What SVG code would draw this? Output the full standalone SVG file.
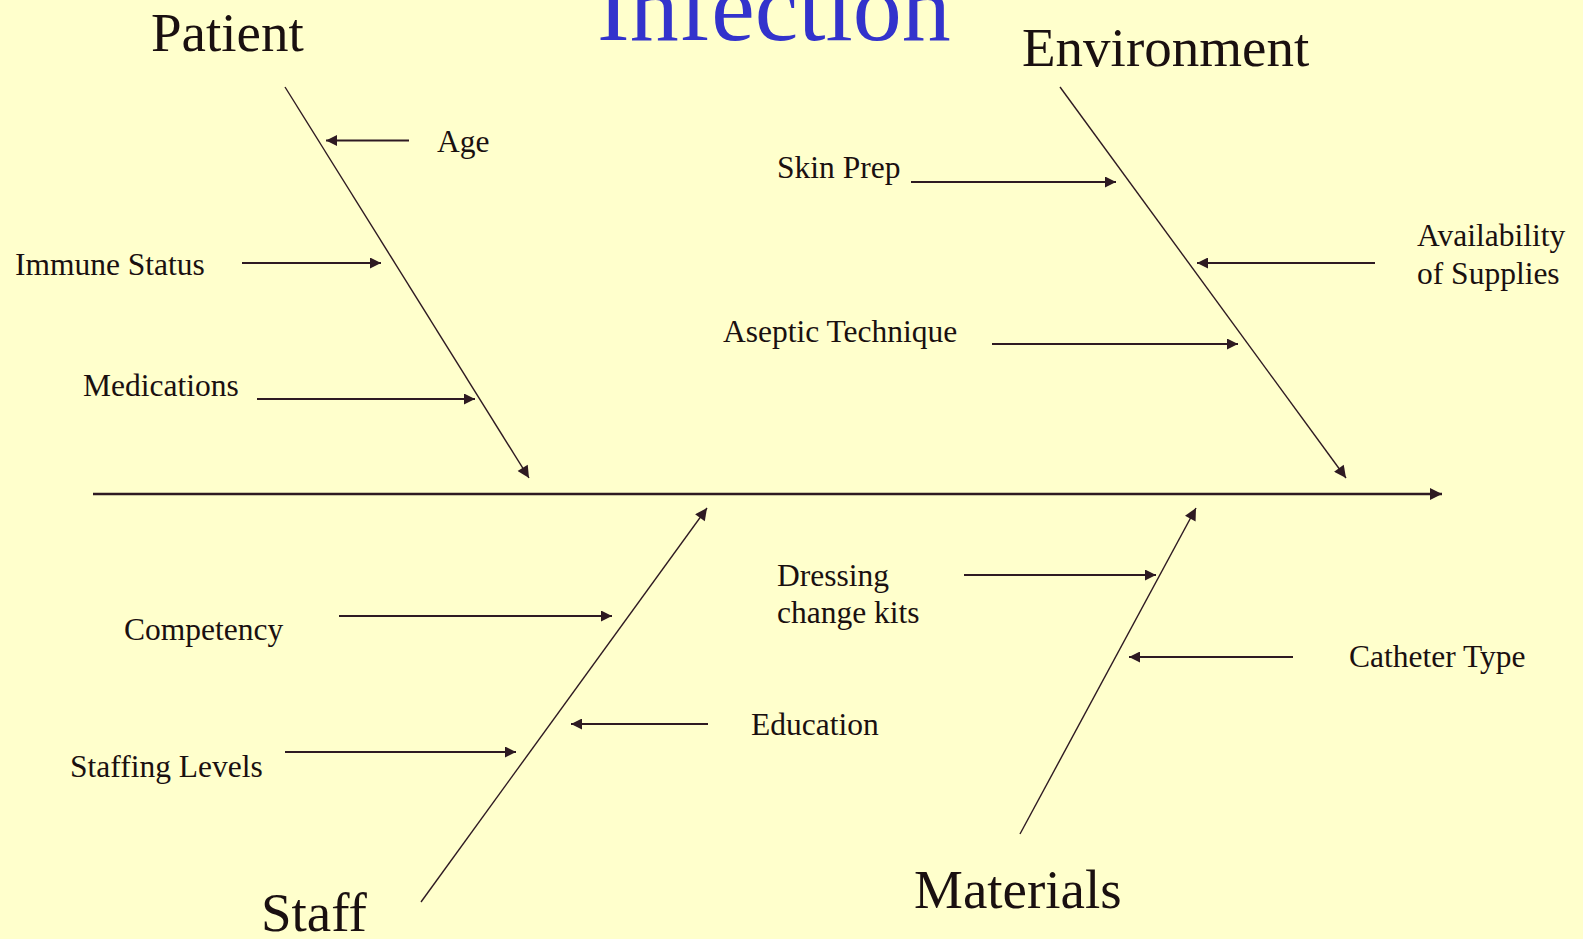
<svg xmlns="http://www.w3.org/2000/svg" width="1583" height="939" viewBox="0 0 1583 939">
<style>
.bg{fill:#ffffcc}
.t{font-family:"Liberation Serif","Times New Roman",serif;fill:#1a1010}
.big{font-size:55px}
.sm{font-size:31.5px}
.title{font-family:"Liberation Serif","Times New Roman",serif;font-size:98px;fill:#3333cc}
.bone{stroke:#2e1a22;stroke-width:1.4;fill:none}
.rib{stroke:#2e1a22;stroke-width:2.2;fill:none}
.spine{stroke:#2e1a22;stroke-width:2.4;fill:none}
</style>
<defs>
<marker id="ah" viewBox="0 0 10 10" refX="10" refY="5" markerWidth="13" markerHeight="11" markerUnits="userSpaceOnUse" orient="auto">
<path d="M0,0 L10,5 L0,10 z" fill="#2e1a22"/>
</marker>
<marker id="ahb" viewBox="0 0 10 10" refX="10" refY="5" markerWidth="14" markerHeight="12" markerUnits="userSpaceOnUse" orient="auto">
<path d="M0,0 L10,5 L0,10 z" fill="#2e1a22"/>
</marker>
</defs>
<rect class="bg" x="0" y="0" width="1583" height="939"/>
<text id="title" class="title" x="597" y="40">Infection</text>

<g id="connectors">
<line class="spine" x1="93" y1="494" x2="1442" y2="494" marker-end="url(#ahb)"/>
<line class="bone" x1="285" y1="87" x2="529" y2="478" marker-end="url(#ahb)"/>
<line class="bone" x1="1060" y1="87" x2="1346" y2="478" marker-end="url(#ahb)"/>
<line class="bone" x1="421" y1="902" x2="707" y2="508" marker-end="url(#ahb)"/>
<line class="bone" x1="1020" y1="834" x2="1196" y2="508" marker-end="url(#ahb)"/>
<line class="rib" x1="409" y1="140.5" x2="326" y2="140.5" marker-end="url(#ah)"/>
<line class="rib" x1="242" y1="263" x2="381" y2="263" marker-end="url(#ah)"/>
<line class="rib" x1="257" y1="399" x2="475" y2="399" marker-end="url(#ah)"/>
<line class="rib" x1="911" y1="182" x2="1116" y2="182" marker-end="url(#ah)"/>
<line class="rib" x1="1375" y1="263" x2="1197" y2="263" marker-end="url(#ah)"/>
<line class="rib" x1="992" y1="344" x2="1238" y2="344" marker-end="url(#ah)"/>
<line class="rib" x1="339" y1="616" x2="612" y2="616" marker-end="url(#ah)"/>
<line class="rib" x1="708" y1="724" x2="571" y2="724" marker-end="url(#ah)"/>
<line class="rib" x1="285" y1="752" x2="516" y2="752" marker-end="url(#ah)"/>
<line class="rib" x1="964" y1="575" x2="1156" y2="575" marker-end="url(#ah)"/>
<line class="rib" x1="1293" y1="657" x2="1129" y2="657" marker-end="url(#ah)"/>
</g>

<g id="patient"><text class="t big" x="151" y="51">Patient</text></g>
<g id="environment"><text class="t big" x="1022" y="66">Environment</text></g>
<g id="staff"><text class="t big" x="261" y="931">Staff</text></g>
<g id="materials"><text class="t big" x="914" y="908">Materials</text></g>

<g id="age"><text class="t sm" x="437" y="152">Age</text></g>
<g id="immune-status"><text class="t sm" x="15" y="275">Immune Status</text></g>
<g id="medications"><text class="t sm" x="83" y="396">Medications</text></g>
<g id="skin-prep"><text class="t sm" x="777" y="178">Skin Prep</text></g>
<g id="availability"><text class="t sm" x="1417" y="246">Availability</text><text class="t sm" x="1417" y="284">of Supplies</text></g>
<g id="aseptic-technique"><text class="t sm" x="723" y="342">Aseptic Technique</text></g>
<g id="competency"><text class="t sm" x="124" y="640">Competency</text></g>
<g id="staffing-levels"><text class="t sm" x="70" y="777">Staffing Levels</text></g>
<g id="education"><text class="t sm" x="751" y="735">Education</text></g>
<g id="dressing"><text class="t sm" x="777" y="586">Dressing</text><text class="t sm" x="777" y="623">change kits</text></g>
<g id="catheter-type"><text class="t sm" x="1349" y="667">Catheter Type</text></g>
</svg>
